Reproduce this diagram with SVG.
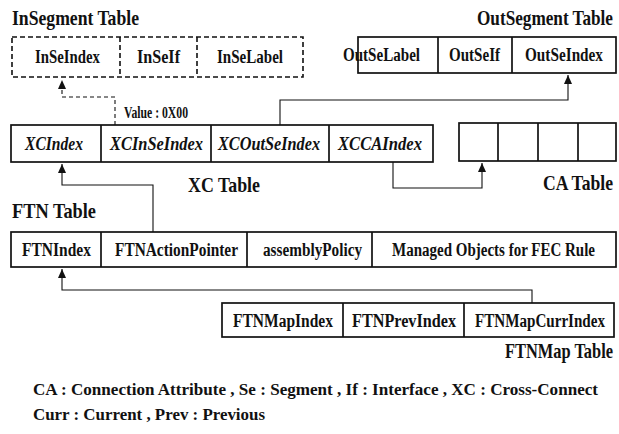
<svg xmlns="http://www.w3.org/2000/svg" width="619" height="434" viewBox="0 0 619 434">
  <style>
    text { font-family: "Liberation Serif", "Times New Roman", serif; font-weight: bold; fill: #111; }
    .title { font-size: 17.6px; }
    .right { text-anchor: end; }
    .cell { font-size: 14.5px; text-anchor: middle; }
    .ital { font-style: italic; }
    .note { font-size: 17px; }
    .small { font-size: 13px; }
    .box { fill: #fff; stroke: #111; stroke-width: 1.7; }
    .dbox { fill: none; stroke: #111; stroke-width: 1.6; stroke-dasharray: 5 3; }
    .conn { fill: none; stroke: #111; stroke-width: 1.1; }
    .dconn { fill: none; stroke: #111; stroke-width: 1.1; stroke-dasharray: 4 3; }
  </style>
  <defs>
    <marker id="up" markerWidth="8" markerHeight="10" refX="4" refY="0" orient="0" markerUnits="userSpaceOnUse" viewBox="0 0 8 10">
      <path d="M0,9 L4,0 L8,9 Z" fill="#111"/>
    </marker>
  </defs>

  <rect width="619" height="434" fill="#fff"/>

  <!-- InSegment table (dashed) -->
  <g id="insegment">
    <text class="title" transform="translate(12,25) scale(1,1.25)" textLength="127" lengthAdjust="spacingAndGlyphs">InSegment Table</text>
    <rect class="dbox" x="12" y="37" width="291" height="40"/>
    <line class="dbox" x1="120" y1="37" x2="120" y2="77"/>
    <line class="dbox" x1="197" y1="37" x2="197" y2="77"/>
    <text class="cell" transform="translate(67.5,63) scale(1,1.24)" textLength="65" lengthAdjust="spacingAndGlyphs">InSeIndex</text>
    <text class="cell" transform="translate(158.5,63) scale(1,1.24)" textLength="43" lengthAdjust="spacingAndGlyphs">InSeIf</text>
    <text class="cell" transform="translate(250,63) scale(1,1.24)" textLength="66" lengthAdjust="spacingAndGlyphs">InSeLabel</text>
  </g>

  <!-- OutSegment table -->
  <g id="outsegment">
    <text class="title right" transform="translate(613,25) scale(1,1.25)" textLength="136" lengthAdjust="spacingAndGlyphs">OutSegment Table</text>
    <rect class="box" x="358" y="37" width="258" height="36"/>
    <line class="box" x1="438" y1="37" x2="438" y2="73"/>
    <line class="box" x1="512" y1="37" x2="512" y2="73"/>
    <text class="cell" transform="translate(381.5,61) scale(1,1.24)" textLength="77" lengthAdjust="spacingAndGlyphs">OutSeLabel</text>
    <text class="cell" transform="translate(474.5,61) scale(1,1.24)" textLength="51" lengthAdjust="spacingAndGlyphs">OutSeIf</text>
    <text class="cell" transform="translate(564,61) scale(1,1.24)" textLength="78" lengthAdjust="spacingAndGlyphs">OutSeIndex</text>
  </g>

  <!-- XC table -->
  <g id="xc">
    <rect class="box" x="11" y="125" width="422" height="37"/>
    <line class="box" x1="101" y1="125" x2="101" y2="162"/>
    <line class="box" x1="211" y1="125" x2="211" y2="162"/>
    <line class="box" x1="329" y1="125" x2="329" y2="162"/>
    <text class="cell ital" transform="translate(54,150) scale(1,1.24)" textLength="58" lengthAdjust="spacingAndGlyphs">XCIndex</text>
    <text class="cell ital" transform="translate(156.5,150) scale(1,1.24)" textLength="93" lengthAdjust="spacingAndGlyphs">XCInSeIndex</text>
    <text class="cell ital" transform="translate(269,150) scale(1,1.24)" textLength="102" lengthAdjust="spacingAndGlyphs">XCOutSeIndex</text>
    <text class="cell ital" transform="translate(380,150) scale(1,1.24)" textLength="84" lengthAdjust="spacingAndGlyphs">XCCAIndex</text>
    <text class="title" transform="translate(188,192) scale(1,1.25)" textLength="72" lengthAdjust="spacingAndGlyphs">XC Table</text>
  </g>

  <!-- CA table -->
  <g id="ca">
    <rect class="box" x="459" y="123" width="157" height="38"/>
    <line class="box" x1="498" y1="123" x2="498" y2="161"/>
    <line class="box" x1="538" y1="123" x2="538" y2="161"/>
    <line class="box" x1="578" y1="123" x2="578" y2="161"/>
    <text class="title right" transform="translate(613,190) scale(1,1.25)" textLength="70" lengthAdjust="spacingAndGlyphs">CA Table</text>
  </g>

  <!-- FTN table -->
  <g id="ftn">
    <text class="title" transform="translate(12,218) scale(1,1.25)" textLength="84" lengthAdjust="spacingAndGlyphs">FTN Table</text>
    <rect class="box" x="11" y="232" width="605" height="35"/>
    <line class="box" x1="101" y1="232" x2="101" y2="267"/>
    <line class="box" x1="247" y1="232" x2="247" y2="267"/>
    <line class="box" x1="372" y1="232" x2="372" y2="267"/>
    <text class="cell" transform="translate(56.5,256) scale(1,1.24)" textLength="69" lengthAdjust="spacingAndGlyphs">FTNIndex</text>
    <text class="cell" transform="translate(176.5,256) scale(1,1.24)" textLength="123" lengthAdjust="spacingAndGlyphs">FTNActionPointer</text>
    <text class="cell" transform="translate(312.5,256) scale(1,1.24)" textLength="99" lengthAdjust="spacingAndGlyphs">assemblyPolicy</text>
    <text class="cell" transform="translate(493.5,256) scale(1,1.24)" textLength="203" lengthAdjust="spacingAndGlyphs">Managed Objects for FEC Rule</text>
  </g>

  <!-- FTNMap table -->
  <g id="ftnmap">
    <rect class="box" x="222" y="303" width="392" height="34"/>
    <line class="box" x1="343" y1="303" x2="343" y2="337"/>
    <line class="box" x1="464" y1="303" x2="464" y2="337"/>
    <text class="cell" transform="translate(283,327) scale(1,1.24)" textLength="100" lengthAdjust="spacingAndGlyphs">FTNMapIndex</text>
    <text class="cell" transform="translate(404,327) scale(1,1.24)" textLength="104" lengthAdjust="spacingAndGlyphs">FTNPrevIndex</text>
    <text class="cell" transform="translate(540,327) scale(1,1.24)" textLength="130" lengthAdjust="spacingAndGlyphs">FTNMapCurrIndex</text>
    <text class="title right" style="font-size:16.2px" transform="translate(613,358) scale(1,1.33)" textLength="108" lengthAdjust="spacingAndGlyphs">FTNMap Table</text>
  </g>

  <!-- connectors -->
  <g id="connectors">
    <polyline class="dconn" points="115,125 115,97 62,97 62,80" marker-end="url(#up)"/>
    <text class="small" transform="translate(124,118) scale(1,1.23)" textLength="64" lengthAdjust="spacingAndGlyphs">Value : 0X00</text>
    <polyline class="conn" points="280,125 280,100 568,100 568,75" marker-end="url(#up)"/>
    <polyline class="conn" points="393,162 393,188 482,188 482,163" marker-end="url(#up)"/>
    <polyline class="conn" points="153,232 153,185 62,185 62,164" marker-end="url(#up)"/>
    <polyline class="conn" points="532,303 532,290 62,290 62,269" marker-end="url(#up)"/>
  </g>

  <!-- legend -->
  <g id="legend">
    <text class="note" x="33" y="395" textLength="565" lengthAdjust="spacingAndGlyphs">CA : Connection Attribute , Se : Segment , If : Interface , XC : Cross-Connect</text>
    <text class="note" x="33" y="420" textLength="232" lengthAdjust="spacingAndGlyphs">Curr : Current , Prev : Previous</text>
  </g>
</svg>
